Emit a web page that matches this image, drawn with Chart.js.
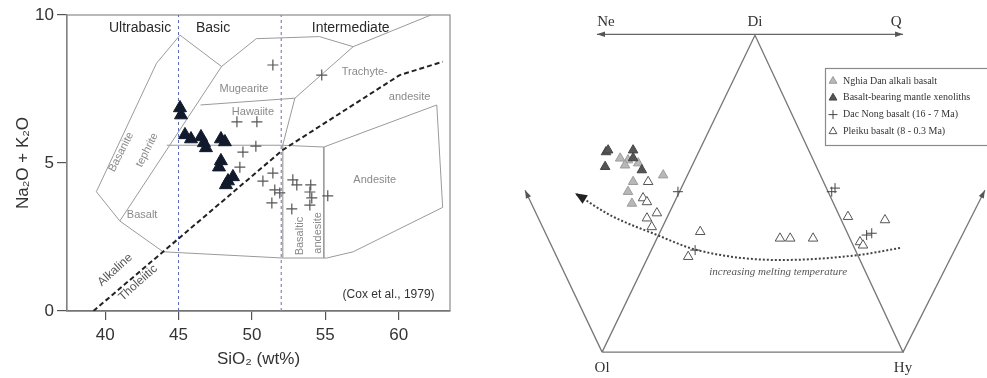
<!DOCTYPE html>
<html><head><meta charset="utf-8">
<script src="https://cdn.jsdelivr.net/npm/chart.js@4"></script>
<style>
html,body{margin:0;padding:0;background:#fff;}
#wrap{position:relative;width:987px;height:378px;overflow:hidden;}
#c1{position:absolute;left:0;top:0;}
#c2{position:absolute;left:470px;top:0;}
</style></head><body>
<div id="wrap"><canvas id="c1" width="460" height="378"></canvas><canvas id="c2" width="517" height="378"></canvas></div>
<script>
// ================= LEFT: TAS diagram (Cox et al., 1979) =================
const xTicks = [40, 45, 50, 55, 60];
const yTicks = [0, 5, 10];
const tasTriangles = [[45.10,6.86],[45.17,6.62],[45.44,5.95],[45.85,5.81],[46.53,5.88],[46.73,5.68],[46.87,5.51],[47.89,5.81],[48.16,5.71],[47.89,5.07],[47.76,4.86],[48.37,4.39],[48.71,4.53],[48.23,4.26]];
const tasCrosses = [[48.98,6.39],[50.34,6.39],[49.39,5.37],[50.27,5.57],[49.18,4.86],[50.75,4.39],[51.43,4.66],[51.56,4.09],[51.90,3.99],[51.36,3.65],[52.79,4.43],[53.06,4.26],[54.01,4.26],[53.95,4.02],[54.08,3.82],[53.95,3.58],[55.17,3.89],[52.72,3.45],[51.43,8.31],[54.76,7.97]];
const bndOuter = [[47.93,8.26],[45.1,9.32],[43.5,8.37],[39.4,4.03],[41.0,3.04],[43.95,2.0],[52.1,1.79],[55.1,1.79],[56.9,2.0],[63.0,3.5],[62.6,6.96],[54.9,5.54],[52.1,5.6],[44.2,5.6]];
const bndInner = [[47.93,8.26],[41.0,3.04]];
const bndTop = [[47.93,8.26],[50.3,9.2],[54.6,9.27],[56.9,8.93],[62.2,10.0]];
const bndTrachyte = [[56.9,8.93],[52.93,7.19],[52.1,5.6]];
const bndMugearite = [[46.5,6.96],[52.93,7.19]];
const bndBasAnd = [[54.9,5.54],[54.9,1.79]];
const bndBasAndL = [[52.1,5.6],[52.1,1.79]];
const alkalineLine = [[39.2,0],[52.1,5.44],[60.07,7.97],[63.0,8.42]];
const divUltrabasic = [[45,0],[45,10]];
const divBasic = [[52,0],[52,10]];
const tasLabels = [
  ['Ultrabasic',42.38,9.56,0,'cat'],['Basic',47.35,9.56,0,'cat'],['Intermediate',56.73,9.56,0,'cat'],
  ['Mugearite',49.46,7.5,0,'f'],['Hawaiite',50.07,6.72,0,'f'],['Trachyte-',57.69,8.07,0,'f'],['andesite',60.75,7.23,0,'f'],
  ['Andesite',58.37,4.43,0,'f'],['Basanite',41.09,5.37,-63,'f'],['tephrite',42.86,5.44,-63,'f'],['Basalt',42.52,3.24,0,'f'],
  ['Basaltic',53.27,2.53,-90,'f'],['andesite',54.49,2.64,-90,'f'],['Alkaline',40.68,1.39,-42,'a'],['Tholeiitic',42.24,0.95,-42,'a'],
  ['(Cox et al., 1979)',62.45,0.54,0,'cox']
];

const pts = a => a.map(p => ({x:p[0], y:p[1]}));
const SANS = "'Liberation Sans', Arial, 'DejaVu Sans', sans-serif";
function bline(data, color, width, dash){
  return {data: pts(data), showLine:true, pointRadius:0, borderColor:color, borderWidth:width, borderDash:dash||[], fill:false, order:10};
}
const tasPlugin = {
  id:'tasDeco',
  beforeDatasetsDraw(chart){
    const {ctx, chartArea:a} = chart;
    ctx.save(); ctx.strokeStyle='#8a8a8a'; ctx.lineWidth=1.2;
    ctx.strokeRect(a.left, a.top, a.right-a.left, a.bottom-a.top);
    ctx.restore();
  },
  afterDatasetsDraw(chart){
    const {ctx, scales:{x, y}} = chart;
    ctx.save(); ctx.textAlign='center'; ctx.textBaseline='middle';
    tasLabels.forEach(([t,vx,vy,rot,kind])=>{
      const px = x.getPixelForValue(vx), py = y.getPixelForValue(vy);
      ctx.save(); ctx.translate(px,py); ctx.rotate(rot*Math.PI/180);
      if(kind==='cat'){ctx.font='14px '+SANS; ctx.fillStyle='#2a2a2a';}
      else if(kind==='a'){ctx.font='12px '+SANS; ctx.fillStyle='#555';}
      else if(kind==='cox'){ctx.font='12px '+SANS; ctx.fillStyle='#333'; ctx.textAlign='right';}
      else {ctx.font='11px '+SANS; ctx.fillStyle='#8a8a8a';}
      ctx.fillText(t,0,0); ctx.restore();
    });
    ctx.restore();
  }
};
new Chart(document.getElementById('c1'), {
  type:'scatter',
  data:{datasets:[
    {data:pts(tasTriangles), pointStyle:'triangle', pointRadius:7.5, backgroundColor:'#111a2c', borderColor:'#111a2c', borderWidth:1, order:0},
    {data:pts(tasCrosses), pointStyle:'cross', pointRadius:5.5, borderColor:'#555', borderWidth:1.2, order:1},
    bline(bndOuter,'#9a9a9a',1), bline(bndInner,'#9a9a9a',1), bline(bndTop,'#9a9a9a',1),
    bline(bndTrachyte,'#9a9a9a',1), bline(bndMugearite,'#9a9a9a',1), bline(bndBasAnd,'#9a9a9a',1), bline(bndBasAndL,'#b0b0b0',1),
    bline(divUltrabasic,'#5a6ab8',1,[3,3]), bline(divBasic,'#8088c0',1.2,[3,3]),
    Object.assign(bline(alkalineLine,'#222',2,[5,3]),{order:5})
  ]},
  options:{
    responsive:false, animation:false, devicePixelRatio:1,
    layout:{padding:{top:15,right:10,left:0,bottom:0}, autoPadding:false},
    plugins:{legend:{display:false}, tooltip:{enabled:false}},
    scales:{
      x:{type:'linear', min:37.4, max:63.5,
        afterBuildTicks:s=>{s.ticks = xTicks.map(v=>({value:v}));},
        afterFit:s=>{s.height=67;},
        grid:{drawOnChartArea:false, drawTicks:true, tickLength:9, color:'#555', lineWidth:1.2},
        border:{display:true, color:'#555', width:1.5},
        ticks:{font:{size:17, family:SANS}, color:'#333', padding:5, maxRotation:0},
        title:{display:true, text:'SiO₂ (wt%)', font:{size:17, family:SANS}, color:'#333', padding:{top:0,bottom:8}}
      },
      y:{type:'linear', min:0, max:10,
        afterBuildTicks:s=>{s.ticks = yTicks.map(v=>({value:v}));},
        afterFit:s=>{s.width=67;},
        grid:{drawOnChartArea:false, drawTicks:true, tickLength:10, color:'#555', lineWidth:1.2},
        border:{display:true, color:'#777', width:1.2},
        ticks:{font:{size:17, family:SANS}, color:'#333', padding:3},
        title:{display:true, text:'Na₂O + K₂O', font:{size:17, family:SANS}, color:'#333', padding:{top:13,bottom:0}}
      }
    }
  },
  plugins:[tasPlugin]
});

// ================= RIGHT: Ne-Di-Q / Ol-Hy projection =================
const cornerLabels = [['Ne',1.3,109.6],['Di',50.8,109.6],['Q',97.7,109.6],['Ol',0,-5.2],['Hy',100,-5.2]];
const triangleFrame = [[0,0],[50.8,105.3],[100,0],[0,0]];
const neqLine = [[-1.7,105.6],[100,105.6]];
const olArrow = [[0,0],[-25.6,53.8]];
const hyArrow = [[100,0],[127.2,53.8]];
const meltCurve = [[99.0,34.6],[84.7,32.2],[59.1,30.6],[31.6,33.9],[18.3,38.9],[2.7,45.5],[-9.0,52.8]];
const nghiaDan = [[6.0,64.4],[8.6,63.8],[7.6,62.1],[12.0,62.8],[10.3,56.6],[8.6,53.3],[9.9,49.4],[20.3,58.8]];
const xenolith = [[1.3,66.5],[2.0,67.1],[10.3,67.1],[10.3,64.5],[1.0,61.6],[13.2,60.5]];
const dacNong = [[25.2,53.3],[76.3,53.3],[77.4,54.5],[87.9,38.9],[89.6,39.5],[30.9,33.9]];
const pleiku = [[15.3,56.6],[13.6,51.2],[14.9,49.9],[18.2,46.2],[14.9,44.5],[16.5,41.6],[28.6,31.7],[32.6,40.0],[59.1,37.8],[62.5,37.8],[70.1,37.8],[81.7,45.0],[94.0,43.9],[85.7,36.6],[86.7,35.5]];
const legendNames = ['Nghia Dan alkali basalt','Basalt-bearing mantle xenoliths','Dac Nong basalt (16 - 7 Ma)','Pleiku basalt (8 - 0.3 Ma)'];
const curveText = 'increasing melting temperature';

const SERIF = "'Liberation Serif', 'Times New Roman', 'DejaVu Serif', serif";
const mk = [
  {pointStyle:'triangle', radius:5.5, backgroundColor:'#b8b8b8', borderColor:'#9c9c9c', borderWidth:1},
  {pointStyle:'triangle', radius:5.5, backgroundColor:'#555', borderColor:'#444', borderWidth:1},
  {pointStyle:'cross', radius:5, backgroundColor:'#444', borderColor:'#444', borderWidth:1},
  {pointStyle:'triangle', radius:5.5, backgroundColor:'#fff', borderColor:'#555', borderWidth:1}
];
function rline(data, color, width, dash, tension){
  return {data:pts(data), showLine:true, pointRadius:0, borderColor:color, borderWidth:width, borderDash:dash||[], tension:tension||0, fill:false, order:10};
}
function arrowHead(ctx, x0,y0,x1,y1,len,half,color){
  const ang = Math.atan2(y1-y0, x1-x0);
  ctx.save(); ctx.fillStyle=color; ctx.beginPath();
  ctx.moveTo(x1,y1);
  ctx.lineTo(x1-len*Math.cos(ang)+half*Math.sin(ang), y1-len*Math.sin(ang)-half*Math.cos(ang));
  ctx.lineTo(x1-len*Math.cos(ang)-half*Math.sin(ang), y1-len*Math.sin(ang)+half*Math.cos(ang));
  ctx.closePath(); ctx.fill(); ctx.restore();
}
const ternPlugin = {
  id:'ternDeco',
  afterDatasetsDraw(chart){
    const {ctx, scales:{x, y}} = chart;
    const P = p => [x.getPixelForValue(p[0]), y.getPixelForValue(p[1])];
    const heads = [[neqLine[1],neqLine[0]],[neqLine[0],neqLine[1]],[olArrow[0],olArrow[1]],[hyArrow[0],hyArrow[1]]];
    heads.forEach(([a,b])=>{const A=P(a),B=P(b); arrowHead(ctx,A[0],A[1],B[0],B[1],8,2.8,'#555');});
    const n = meltCurve.length, A = P(meltCurve[n-2]), B = P(meltCurve[n-1]);
    arrowHead(ctx,A[0],A[1],B[0],B[1],12,5,'#222');
    ctx.save(); ctx.font='15px '+SERIF; ctx.fillStyle='#333'; ctx.textAlign='center'; ctx.textBaseline='middle';
    cornerLabels.forEach(([t,vx,vy])=>{const p=P([vx,vy]); ctx.fillText(t,p[0],p[1]);});
    const tp = P([58.5,26.6]);
    ctx.font='italic 11px '+SERIF; ctx.fillStyle='#555'; ctx.fillText(curveText,tp[0],tp[1]);
    ctx.restore();
    // legend box (right side runs off the page as in the reference)
    const lx=355, ly=68, lw=200, lh=77;
    ctx.save(); ctx.fillStyle='#fff'; ctx.fillRect(lx,ly,lw,lh);
    ctx.strokeStyle='#8a8a8a'; ctx.lineWidth=1.2; ctx.strokeRect(lx+0.5,ly+0.5,lw,lh);
    ctx.font='10px '+SERIF; ctx.textAlign='left'; ctx.textBaseline='middle';
    legendNames.forEach((t,i)=>{
      const yy = ly+13+i*16.8;
      const m = mk[i];
      ctx.save();
      ctx.fillStyle=m.backgroundColor; ctx.strokeStyle=m.borderColor; ctx.lineWidth=1;
      Chart.helpers.drawPoint(ctx,{pointStyle:m.pointStyle, radius:4.5, borderWidth:1, rotation:0}, lx+8, yy);
      ctx.restore();
      ctx.fillStyle='#333';
      ctx.fillText(t, lx+18, yy);
    });
    ctx.restore();
  }
};
new Chart(document.getElementById('c2'), {
  type:'scatter',
  data:{datasets:[
    Object.assign({data:pts(nghiaDan), pointRadius:mk[0].radius, order:1}, mk[0]),
    Object.assign({data:pts(xenolith), pointRadius:mk[1].radius, order:0}, mk[1]),
    Object.assign({data:pts(dacNong), pointRadius:mk[2].radius, order:2}, mk[2]),
    Object.assign({data:pts(pleiku), pointRadius:mk[3].radius, order:3}, mk[3]),
    rline(triangleFrame,'#777',1.3), rline(neqLine,'#666',1.3), rline(olArrow,'#777',1.3), rline(hyArrow,'#777',1.3),
    Object.assign(rline(meltCurve,'#444',2,[2,2],0.4),{cubicInterpolationMode:'monotone', order:5})
  ]},
  options:{
    responsive:false, animation:false, devicePixelRatio:1,
    layout:{padding:0, autoPadding:false},
    plugins:{legend:{display:false}, tooltip:{enabled:false}},
    scales:{
      x:{type:'linear', display:false, min:-43.9, max:127.9},
      y:{type:'linear', display:false, min:-8.6, max:117}
    }
  },
  plugins:[ternPlugin]
});
</script>
</body></html>
